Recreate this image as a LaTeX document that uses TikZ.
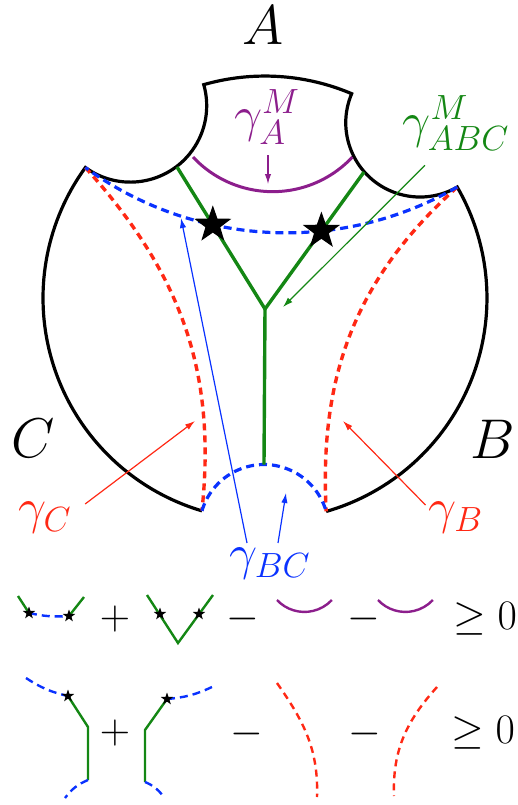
\RequirePackage{fix-cm}
\documentclass[tikz,border=0pt]{standalone}
\usepackage{amsmath}
\usepackage{amssymb}
\usepackage{xcolor}
\usepackage{tikz}
\usetikzlibrary{calc,intersections,shapes.geometric,arrows.meta}

\definecolor{ggreen}{RGB}{20,135,20}
\definecolor{gpurple}{RGB}{140,30,140}
\definecolor{gred}{RGB}{255,40,20}
\definecolor{gblue}{RGB}{10,50,255}

\begin{document}
\begin{tikzpicture}[x=0.5pt, y=0.5pt,
  boundary/.style={line width=1.6pt},
  redgeo/.style={gred, line width=1.7pt, dash pattern=on 3.5pt off 2.5pt},
  bluegeo/.style={gblue, line width=1.6pt, dash pattern=on 4pt off 2.5pt},
  greentree/.style={ggreen, line width=1.7pt},
  mingeo/.style={gpurple, line width=1.5pt},
  slim/.style={line width=1.2pt},
  pointer/.style={line width=0.6pt, -{Latex[length=5pt,width=3.2pt]}},
  regionlbl/.style={font=\fontsize{28}{32}\selectfont},
  lbl/.style={inner sep=0pt, font=\fontsize{25}{30}\selectfont},
  opsign/.style={inner sep=0pt, font=\fontsize{21}{25}\selectfont},
  bigstar/.style={star, star points=5, star point ratio=2.5, fill=black, inner sep=0pt, minimum size=19.5pt},
  smallstar/.style={bigstar, minimum size=6.5pt}]
\useasboundingbox (0,0) rectangle (518,-805);

% Disc and boundary points
\coordinate (O) at (265,-298);
\coordinate (P1) at ($(O)+(144:222)$);
\coordinate (P2) at ($(O)+(106:222)$);
\coordinate (P3) at ($(O)+(67:222)$);
\coordinate (P4) at ($(O)+(30:222)$);
\coordinate (P5) at ($(O)+(253.5:222)$);
\coordinate (P6) at ($(O)+(286:222)$);

% Boundary of the region
\draw[boundary] (P5) arc[start angle=253.5, end angle=144, radius=222]
  arc[start angle=-126, end angle=16, radius=76.4]
  arc[start angle=106, end angle=67, radius=222]
  arc[start angle=157, end angle=300, radius=74.3]
  arc[start angle=30, end angle=-74, radius=222];

% gamma_C and gamma_B
\draw[redgeo] (P1) to[out=-48, in=84] (P5);
\draw[redgeo] (P4) to[out=222, in=93] (P6);

% gamma_BC (two pieces)
\draw[bluegeo, name path=bctop] (P4) arc[start angle=-60, end angle=-126, radius=341.9];
\draw[bluegeo] (P5) arc[start angle=163.5, end angle=16, radius=64.7];

% Minimal network
\coordinate (GL) at (177,-167);
\coordinate (GR) at (364,-172);
\coordinate (J) at (265,-309);
\coordinate (GB) at (264,-464.5);
\draw[greentree, name path=arms] (GL) -- (J) -- (GR);
\draw[greentree] (J) -- (GB);

% gamma_A^M
\draw[mingeo] (193,-157) arc[start angle=223, end angle=317, radius=109];

% Crossing points
\path[name intersections={of=bctop and arms, name=x}];
\node[bigstar] (s1) at (x-1) {};
\node[bigstar] (s2) at (x-2) {};

% Region names
\node[regionlbl] (lA) at (263,-25) {$A$};
\node[regionlbl] (lB) at (493,-439) {$B$};
\node[regionlbl] (lC) at (33,-438) {$C$};

% Curve labels
\node[lbl, gpurple] (gAM) at (267,-117) {$\gamma_A^M$};
\node[lbl, ggreen] (gABC) at (456,-123) {$\gamma_{ABC}^M$};
\node[lbl, gred] (gC) at (45,-518) {$\gamma_C$};
\node[lbl, gred] (gB) at (456,-518) {$\gamma_B$};
\node[lbl, gblue] (gBC) at (270,-564) {$\gamma_{BC}$};

\coordinate (tAM) at (268,-184);
\coordinate (tABC) at (283,-307);
\coordinate (tC) at (195,-421);
\coordinate (tB) at (343,-421);
\coordinate (tBC1) at (181,-218);
\coordinate (tBC2) at (286,-493);
\draw[pointer, gpurple] ($(gAM.south)+(1,-10)$) -- (tAM);
\draw[pointer, ggreen] ($(gABC.south)+(-31,-14)$) -- (tABC);
\draw[pointer, gred] ($(gC.east)+(13,14)$) -- (tC);
\draw[pointer, gred] ($(gB.west)+(-3,13)$) -- (tB);
\draw[pointer, gblue] ($(gBC.north)+(-23,5)$) -- (tBC1);
\draw[pointer, gblue] ($(gBC.north)+(8,5)$) -- (tBC2);

% First inequality
\draw[bluegeo, slim] (29,-613) to[bend right=8] (69,-616);
\draw[greentree, slim] (18,-596) -- (29,-613);
\draw[greentree, slim] (69,-616) -- (84,-597);
\node[smallstar] at (29,-613) {};
\node[smallstar] at (69,-616) {};
\node[opsign] (p1) at (115,-619) {$+$};
\draw[greentree, slim] (147,-595) -- (178,-643) -- (213,-595);
\node[smallstar] at (160,-614) {};
\node[smallstar] at (199,-614) {};
\node[opsign] (m1) at (243,-619) {$-$};
\draw[mingeo, slim] (277,-600) arc[start angle=223, end angle=317, radius=37.5];
\node[opsign] (m2) at (364,-619) {$-$};
\draw[mingeo, slim] (378,-600) arc[start angle=223, end angle=317, radius=37.5];
\node[opsign] (ge1) at (485,-619) {$\geq 0$};

% Second inequality
\draw[bluegeo, slim] (26,-678) to[bend right=10] (68,-696);
\draw[greentree, slim] (68,-696) -- (88,-727) -- (88,-780);
\draw[bluegeo, slim] (88,-780) to[bend right=15] (65,-798);
\node[smallstar] at (68,-696) {};
\node[opsign] (p2) at (115,-733) {$+$};
\draw[greentree, slim] (145,-782) -- (145,-730) -- (167,-699);
\draw[bluegeo, slim] (167,-699) to[bend right=10] (212,-687);
\draw[bluegeo, slim] (145,-782) to[bend left=15] (163,-796);
\node[smallstar] at (167,-699) {};
\node[opsign] (m3) at (247,-734) {$-$};
\draw[redgeo, slim] (277,-683) to[out=-55, in=88] (317,-797);
\node[opsign] (m4) at (365,-734) {$-$};
\draw[redgeo, slim] (437,-687) to[out=228, in=92] (394,-796);
\node[opsign] (ge2) at (483,-733) {$\geq 0$};
\end{tikzpicture}
\end{document}
